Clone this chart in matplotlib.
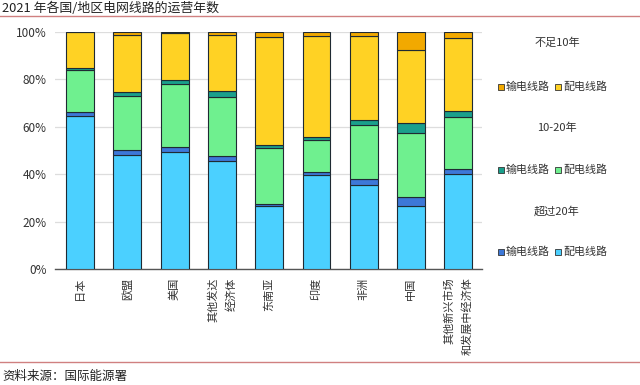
import matplotlib
matplotlib.use("Agg")
import matplotlib.pyplot as plt
from matplotlib.patches import Rectangle
from matplotlib.lines import Line2D
from matplotlib.ticker import PercentFormatter

plt.rcParams['font.family'] = ['Noto Sans CJK SC', 'DejaVu Sans']

categories = ["日本", "欧盟", "美国", "其他发达\n经济体", "东南亚", "印度", "非洲", "中国", "其他新兴市场\n和发展中经济体"]
# >20 years
dist_over20 = [64.5, 48.2, 49.4, 45.5, 26.6, 39.7, 35.5, 26.6, 39.9]
trans_over20 = [1.7, 2.2, 2.0, 2.2, 1.0, 1.4, 2.4, 4.0, 2.5]
# 10-20 years
dist_10_20 = [17.8, 22.6, 26.6, 24.7, 23.5, 13.3, 22.8, 26.9, 21.8]
trans_10_20 = [0.7, 1.5, 1.9, 2.5, 1.2, 1.1, 2.1, 4.0, 2.6]
# <10 years
dist_under10 = [15.2, 24.2, 19.5, 23.7, 45.7, 43.0, 35.5, 30.9, 30.5]
trans_under10 = [0.1, 1.3, 0.6, 1.4, 2.0, 1.5, 1.7, 7.6, 2.7]

series = [
    (dist_over20, "#4BD0FF"),
    (trans_over20, "#3D78D8"),
    (dist_10_20, "#6FF08F"),
    (trans_10_20, "#1AA08C"),
    (dist_under10, "#FFD224"),
    (trans_under10, "#F2A900"),
]

fig = plt.figure(figsize=(6.4, 3.85), dpi=100)
ax = fig.add_axes([0.086, 0.301, 0.667, 0.616])

x = list(range(len(categories)))
bottom = [0.0] * len(categories)
for vals, col in series:
    v = [a / 100 for a in vals]
    ax.bar(x, v, width=0.59, bottom=bottom, color=col, edgecolor="#1f2a33", linewidth=0.8, zorder=3)
    bottom = [b + a for b, a in zip(bottom, v)]

ax.set_ylim(0, 1.0)
ax.set_xlim(-0.53, 8.5)
ax.yaxis.set_major_formatter(PercentFormatter(1.0, decimals=0))
ax.set_yticks([0, 0.2, 0.4, 0.6, 0.8, 1.0])
ax.grid(axis='y', color='#dddddd', linewidth=0.9, zorder=0)
for s in ['left', 'right', 'top']:
    ax.spines[s].set_visible(False)
ax.spines['bottom'].set_color('#555555')
ax.spines['bottom'].set_linewidth(1.0)
ax.tick_params(axis='y', length=0, labelsize=8.5, colors='#333333', pad=6)
ax.tick_params(axis='x', length=0, pad=6)
ax.set_xticks(x)
ax.set_xticklabels(categories, rotation=90, fontsize=8, va='top', ha='center',
                   multialignment='right', color='#333333', linespacing=1.9)

# title and rules
fig.text(0.003, 0.979, "2021 年各国/地区电网线路的运营年数", fontsize=9.3, va='center', ha='left', color='#222222')
fig.add_artist(Line2D([0, 1], [0.958, 0.958], color='#d08080', linewidth=1.0))
fig.add_artist(Line2D([0, 1], [0.060, 0.060], color='#d08080', linewidth=1.0))
fig.text(0.003, 0.021, "资料来源：国际能源署", fontsize=9, va='center', ha='left', color='#222222')

# legend
groups = [
    ("不足10年", 43, 87, "#F2A900", "#FFD224"),
    ("10-20年", 128, 170, "#1AA08C", "#6FF08F"),
    ("超过20年", 211, 252, "#3D78D8", "#4BD0FF"),
]
W, H = 640.0, 385.0
for title, ty, ly, c1, c2 in groups:
    fig.text(557 / W, 1 - ty / H, title, fontsize=8, ha='center', va='center', color='#333333')
    for xs, col in [(498, c1), (555, c2)]:
        fig.add_artist(Rectangle((xs / W, 1 - (ly + 3) / H), 6 / W, 6 / H,
                                 facecolor=col, edgecolor='#333333', linewidth=0.6,
                                 transform=fig.transFigure))
    fig.text(506 / W, 1 - ly / H, "输电线路", fontsize=7.9, ha='left', va='center', color='#333333')
    fig.text(563 / W, 1 - ly / H, "配电线路", fontsize=7.9, ha='left', va='center', color='#333333')

fig.savefig("out.png", dpi=100)
